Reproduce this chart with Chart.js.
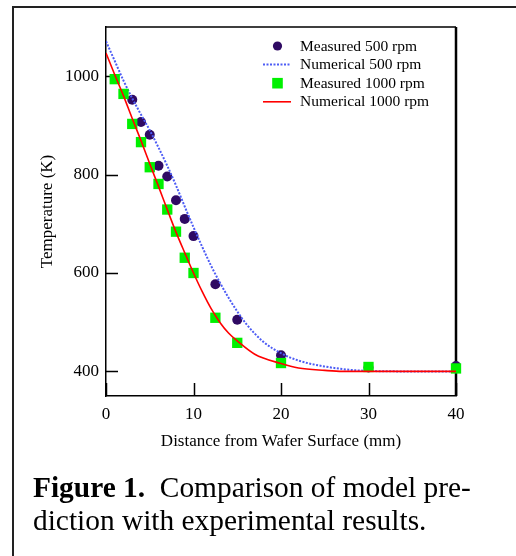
<!DOCTYPE html>
<html>
<head>
<meta charset="utf-8">
<script src="https://cdn.jsdelivr.net/npm/chart.js@4.4.1/dist/chart.umd.min.js"></script>
<style>
  html, body { margin: 0; padding: 0; background: #fff; overflow: hidden; }
  #wrap { position: relative; width: 516px; height: 556px; }
  #frame { position: absolute; left: 12px; top: 6px; width: 540px; height: 580px;
           border-top: 2px solid #222; border-left: 2px solid #222; }
  #chart { position: absolute; left: 0; top: 0; }
  #caption { position: absolute; left: 33px; top: 471px; margin: 0;
             font-family: "Liberation Serif", "Times New Roman", serif;
             font-size: 29.4px; line-height: 33px; color: #000; }
</style>
</head>
<body>
<div id="wrap">
  <div id="frame"></div>
  <canvas id="chart" width="516" height="556"></canvas>
  <p id="caption"><b>Figure 1.</b>&nbsp;&nbsp;Comparison of model pre-<br>diction with experimental results.</p>
</div>
<script>
// measured points
const dist500 = [3, 4, 5, 6, 7, 8, 9, 10, 12.5, 15, 20, 30, 40]
const meas500 = [952, 907, 881, 818, 796, 748, 710, 675, 577, 505, 433, 408, 411]
const dist1000 = [1, 2, 3, 4, 5, 6, 7, 8, 9, 10, 12.5, 15, 20, 30, 40]
const meas1000 = [994, 964, 903, 866, 815, 781, 729, 684, 631, 600, 509, 458, 417, 409, 406]

// numerical curves
const numDist500 = [0, 1, 2, 3, 4, 5, 6, 7, 8, 9, 10, 11, 12, 13, 14, 15, 16, 18, 20, 22, 25, 28, 30, 35, 40]
const num500 = [1071, 1031, 991, 955, 922, 890, 855, 818, 778, 735, 693, 653, 615, 581, 550, 522, 497, 460, 437, 422, 410, 403, 401, 400, 400]
const numDist1000 = [0, 1, 2, 3, 4, 5, 6, 7, 8, 9, 10, 11, 12, 13, 14, 15, 17, 20, 22, 25, 27, 30, 40]
const num1000 = [1047, 1003, 960, 914, 869, 822, 776, 729, 683, 641, 600, 562, 528, 500, 478, 462, 435, 416, 407, 402, 400, 400, 400]

const seriesNames = ['Measured 500 rpm', 'Numerical 500 rpm', 'Measured 1000 rpm', 'Numerical 1000 rpm']
const xTicks = [0, 10, 20, 30, 40]
const yTicks = [400, 600, 800, 1000]

const serif = '"Liberation Serif", "Times New Roman", serif'
const toXY = (xs, ys) => xs.map((v, i) => ({ x: v, y: ys[i] }))

// ticks point inward and the box is closed on top and right
const frameDecor = {
	id: 'frameDecor',
	beforeDatasetsDraw(chart) {
		const { ctx, chartArea: a, scales: { x, y } } = chart
		ctx.save()
		ctx.strokeStyle = '#000'
		ctx.lineWidth = 1.5
		ctx.beginPath()
		yTicks.forEach(v => {
			const py = Math.round(y.getPixelForValue(v)) + 0.5
			ctx.moveTo(a.left, py)
			ctx.lineTo(a.left + 12, py)
		})
		xTicks.forEach(v => {
			const px = Math.round(x.getPixelForValue(v)) + 0.5
			ctx.moveTo(px, a.bottom)
			ctx.lineTo(px, a.bottom - 13)
		})
		ctx.moveTo(a.left, a.top)
		ctx.lineTo(a.right, a.top)
		ctx.stroke()
		ctx.lineWidth = 2.5
		ctx.beginPath()
		ctx.moveTo(a.right, a.top)
		ctx.lineTo(a.right, a.bottom)
		ctx.stroke()
		ctx.restore()
	}
}

// legend drawn in the upper right of the plot
const boxLegend = {
	id: 'boxLegend',
	afterDraw(chart) {
		const ctx = chart.ctx
		const sets = chart.data.datasets
		ctx.save()
		ctx.font = '15.5px ' + serif
		ctx.textBaseline = 'middle'
		sets.forEach((ds, i) => {
			const cy = 46 + i * 18.6
			const cx = 277.5
			if (ds.showLine) {
				ctx.strokeStyle = ds.borderColor
				ctx.lineWidth = ds.borderWidth
				ctx.setLineDash(ds.borderDash || [])
				ctx.beginPath()
				ctx.moveTo(263, cy)
				ctx.lineTo(291, cy)
				ctx.stroke()
				ctx.setLineDash([])
			} else if (ds.pointStyle === 'rect') {
				ctx.fillStyle = ds.backgroundColor
				ctx.fillRect(cx - 5.3, cy - 5.3, 10.6, 10.6)
			} else {
				ctx.fillStyle = ds.backgroundColor
				ctx.beginPath()
				ctx.arc(cx, cy, 4.6, 0, Math.PI * 2)
				ctx.fill()
			}
			ctx.fillStyle = '#000'
			ctx.fillText(ds.label, 300, cy + 0.5)
		})
		ctx.restore()
	}
}

const chart = new Chart(document.getElementById('chart'), {
	type: 'scatter',
	data: {
		datasets: [
			{
				label: seriesNames[0],
				data: toXY(dist500, meas500),
				pointStyle: 'circle',
				pointRadius: 5,
				backgroundColor: '#2f0a63',
				borderColor: '#2f0a63',
				borderWidth: 0,
				clip: false,
				order: 4
			},
			{
				label: seriesNames[1],
				data: toXY(numDist500, num500),
				showLine: true,
				pointRadius: 0,
				borderColor: '#4d5cf5',
				borderWidth: 2,
				borderDash: [2, 1.5],
				cubicInterpolationMode: 'monotone',
				order: 3
			},
			{
				label: seriesNames[2],
				data: toXY(dist1000, meas1000),
				pointStyle: 'rect',
				pointRadius: 7.3,
				backgroundColor: '#00f000',
				borderColor: '#00f000',
				borderWidth: 0,
				clip: false,
				order: 2
			},
			{
				label: seriesNames[3],
				data: toXY(numDist1000, num1000),
				showLine: true,
				pointRadius: 0,
				borderColor: '#ff0000',
				borderWidth: 1.6,
				cubicInterpolationMode: 'monotone',
				order: 1
			}
		]
	},
	options: {
		responsive: false,
		animation: false,
		events: [],
		layout: { padding: { left: 0, top: 27, right: 60, bottom: 96 } },
		plugins: { legend: { display: false }, tooltip: { enabled: false } },
		scales: {
			x: {
				type: 'linear',
				min: 0,
				max: 40,
				afterFit: s => { s.height = 64 },
				afterBuildTicks: s => { s.ticks = xTicks.map(v => ({ value: v })) },
				grid: { display: false, drawTicks: false },
				border: { display: true, color: '#000', width: 1.5 },
				ticks: { color: '#000', padding: 8, font: { family: serif, size: 17 }, callback: v => String(v) },
				title: {
					display: true,
					text: 'Distance from Wafer Surface (mm)',
					color: '#000',
					padding: { top: 0, bottom: 8 },
					font: { family: serif, size: 17 }
				}
			},
			y: {
				type: 'linear',
				min: 350,
				max: 1100,
				afterFit: s => { s.width = 106 },
				afterBuildTicks: s => { s.ticks = yTicks.map(v => ({ value: v })) },
				grid: { display: false, drawTicks: false },
				border: { display: true, color: '#000', width: 1.5 },
				ticks: { color: '#000', padding: 7, font: { family: serif, size: 17 }, callback: v => String(v) },
				title: {
					display: true,
					text: 'Temperature (K)',
					color: '#000',
					padding: { top: 37, bottom: 0 },
					font: { family: serif, size: 17 }
				}
			}
		}
	},
	plugins: [frameDecor, boxLegend]
})
</script>
</body>
</html>
